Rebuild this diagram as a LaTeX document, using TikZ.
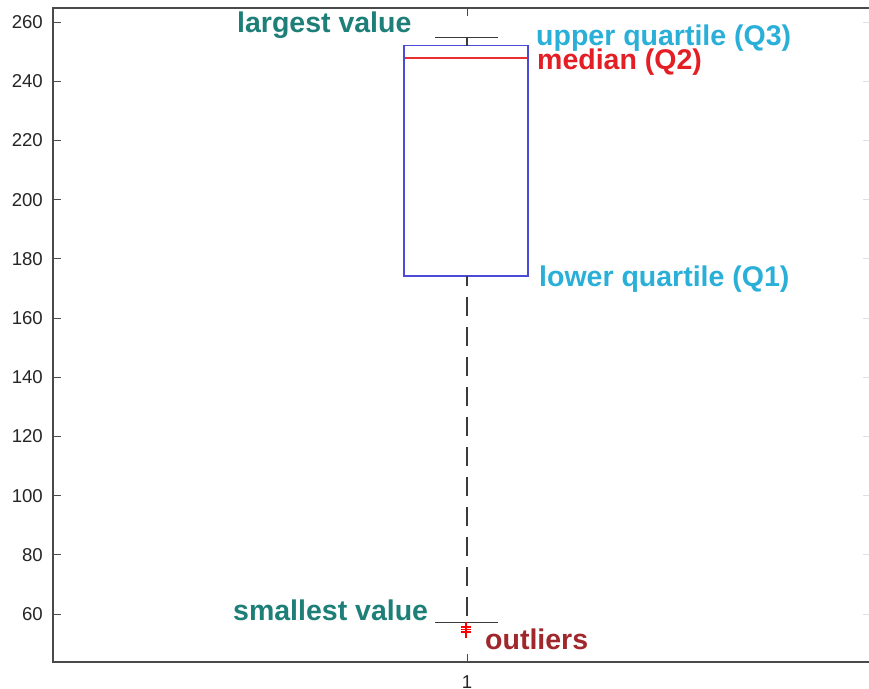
\documentclass[tikz,border=0pt]{standalone}
\usepackage{fontspec}
\setmainfont{Liberation Sans}
\definecolor{axisgray}{HTML}{4A4A4A}
\definecolor{ticktext}{HTML}{262626}
\definecolor{tealtxt}{HTML}{1E7F78}
\definecolor{bluetxt}{HTML}{2AB0D8}
\definecolor{redtxt}{HTML}{E31E24}
\definecolor{darkred}{HTML}{A0282C}
\definecolor{boxblue}{HTML}{4B4BD6}
\definecolor{medred}{HTML}{E83030}
\definecolor{whisk}{HTML}{3A3A3A}
\begin{document}
\begin{tikzpicture}[x=1pt,y=-1pt,
  lbl/.style={font=\fontsize{28.5}{30}\selectfont\bfseries, inner sep=0pt, anchor=base west},
  ticklbl/.style={font=\fontsize{18.6}{20}\selectfont, text=ticktext, inner sep=0pt},
  axisline/.style={draw=axisgray, line width=1.4pt},
  whiskerline/.style={draw=whisk, line width=1.2pt}]
\fill[white] (0,0) rectangle (869,688);
\useasboundingbox (0,0) rectangle (869,688);
% axes frame
\coordinate (tl) at (53,8);
\coordinate (bl) at (53,662);
\coordinate (tr) at (869,8);
\coordinate (br) at (869,662);
\draw[axisline] (tr) -- (tl) -- (bl) -- (br);
% y ticks and labels
\foreach \v in {60,80,...,260} {
  \pgfmathsetmacro{\yy}{22+(260-\v)*2.96}
  \draw[axisgray, line width=1pt] (53,\yy) -- (61,\yy);
  \draw[black!12, line width=1pt] (869,\yy) -- (863,\yy);
  \node[ticklbl, anchor=east] (t\v) at (43,\yy) {\v};
}
% x ticks
\draw[axisgray, line width=1pt] (467,8) -- (467,16);
\draw[axisgray, line width=1pt] (467,662) -- (467,654);
\node[ticklbl, anchor=center] (x1) at (467,682) {1};
% box
\draw[boxblue, line width=1.1pt] (404,45.7) rectangle (528,276);
\draw[medred, line width=1.3pt] (404.6,58) -- (527.4,58);
% whiskers
\coordinate (capT) at (467,37.7);
\coordinate (boxT) at (467,45.7);
\coordinate (boxB) at (467,276);
\coordinate (capB) at (467,622.7);
\draw[whiskerline] (435,37.7) -- (498,37.7);
\draw[whiskerline] (capT) -- (boxT);
\draw[whiskerline, dash pattern=on 19pt off 11pt, dash phase=9pt] (boxB) -- (capB);
\draw[whiskerline] (435,622.7) -- (498,622.7);
% outliers
\foreach \oy in {627,629.5,632} {
  \draw[red, line width=1.4pt] (460.5,\oy) -- (471,\oy);
}
\draw[red, line width=1.4pt] (466,622) -- (466,638);
% labels
\node[lbl, text=tealtxt] (largest) at (237,32) {largest value};
\node[lbl, text=bluetxt] (q3) at (536,45.5) {upper quartile (Q3)};
\node[lbl, text=redtxt] (q2) at (537,69) {median (Q2)};
\node[lbl, text=bluetxt] (q1) at (539,286) {lower quartile (Q1)};
\node[lbl, text=tealtxt] (smallest) at (233,620) {smallest value};
\node[lbl, text=darkred] (outl) at (485,649) {outliers};
\end{tikzpicture}
\end{document}
